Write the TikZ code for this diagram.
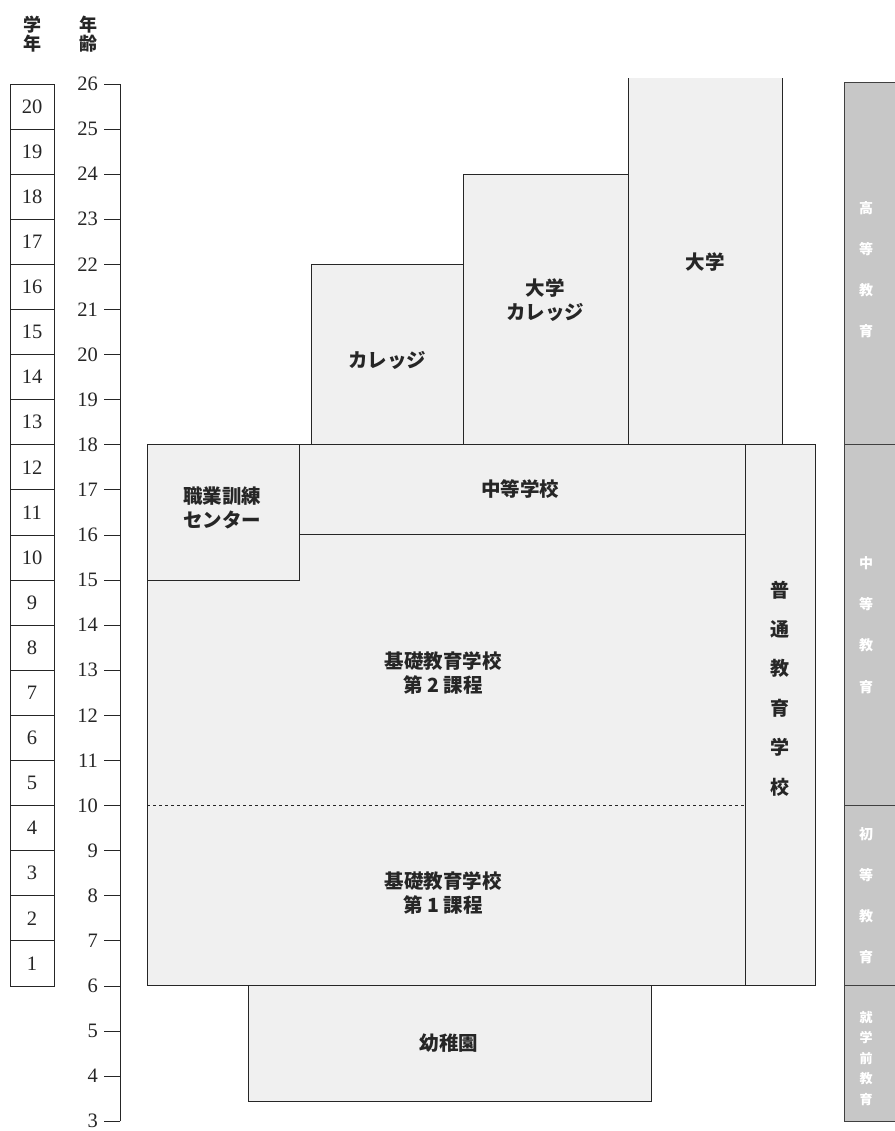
\documentclass[tikz,border=0pt]{standalone}
\usepackage{fontspec}
\setmainfont{Liberation Serif}
\newfontfamily\jpfont{Noto Sans CJK JP}
\usetikzlibrary{positioning}

\begin{document}
\begin{tikzpicture}[x=1pt, y=45.1pt]
\tikzstyle{box}=[draw=black!85, fill=black!6, line width=1pt]
\tikzstyle{bar}=[draw=black!75, fill=black!22, line width=1pt]
\tikzstyle{cell}=[draw=black!85, line width=0.9pt]
\tikzstyle{jp}=[font=\jpfont\bfseries\fontsize{19.5}{24}\selectfont, align=center, inner sep=0pt, text=black!85]
\tikzstyle{num}=[font=\fontsize{20.5}{20}\selectfont, inner sep=0pt, text=black!85]
\tikzstyle{side}=[font=\jpfont\bfseries\fontsize{14}{41}\selectfont, text=white, align=center, inner sep=0pt]
    \useasboundingbox (0,2.785) rectangle (894,27.862);
    % headers
    \node[jp, font=\jpfont\bfseries\fontsize{18}{19}\selectfont] (grade) at (32,27.1) {学\\年};
    \node[jp, font=\jpfont\bfseries\fontsize{18}{19}\selectfont] (age) at (88,27.1) {年\\齢};
    % grade boxes
    \foreach \g in {1,...,20} {
        \draw[cell] (10,5+\g) rectangle (54,6+\g);
        \node[num] (g\g) at (32,5.5+\g) {\g};
    }
    % age axis
    \draw[cell] (120,3) -- (120,26);
    \foreach \a in {3,...,26} {
        \draw[cell] (104,\a) -- (120,\a);
        \node[num, anchor=east] (a\a) at (98,\a) {\a};
    }
    % schools
    \draw[box] (248,3.43) rectangle (651,6);
    \draw[box] (147,6) -- (745,6) -- (745,16) -- (299,16) -- (299,15) -- (147,15) -- cycle;
    \draw[box] (147,15) rectangle (299,18);
    \draw[box] (299,16) rectangle (745,18);
    \draw[box] (745,6) rectangle (815,18);
    \draw[box] (311,18) rectangle (463,22);
    \draw[box] (463,18) rectangle (628,24);
    \fill[black!6] (628,18) rectangle (782,26.13);
    \draw[box, fill=none] (628,26.13) -- (628,18) -- (782,18) -- (782,26.13);
    \draw[dashed, black!85, line width=0.8pt] (147,10) -- (745,10);
    % side bar
    \draw[bar] (844,3) rectangle (900,26.04);
    \draw[bar] (844,18) -- (900,18);
    \draw[bar] (844,10) -- (900,10);
    \draw[bar] (844,6) -- (900,6);
    % labels
    \node[jp] (kinder) at (449,4.74) {幼稚園};
    \node[jp] (basic1) at (443,8.06) {基礎教育学校\\第 1 課程};
    \node[jp] (basic2) at (443,12.94) {基礎教育学校\\第 2 課程};
    \node[jp] (voc) at (222,16.6) {職業訓練\\センター};
    \node[jp] (second) at (520,17.02) {中等学校};
    \node[jp, font=\jpfont\bfseries\fontsize{19}{39.4}\selectfont] (general) at (780,12.6) {普\\通\\教\\育\\学\\校};
    \node[jp] (college) at (387,19.88) {カレッジ};
    \node[jp] (univcol) at (545,21.2) {大学\\カレッジ};
    \node[jp] (univ) at (705,22.05) {大学};
    \node[side] (higher) at (866,21.88) {高\\等\\教\\育};
    \node[side] (middle) at (866,14) {中\\等\\教\\育};
    \node[side] (primary) at (866,8) {初\\等\\教\\育};
    \node[side, font=\jpfont\bfseries\fontsize{13}{20.5}\selectfont] (pre) at (866,4.4) {就\\学\\前\\教\\育};
\end{tikzpicture}
\end{document}
